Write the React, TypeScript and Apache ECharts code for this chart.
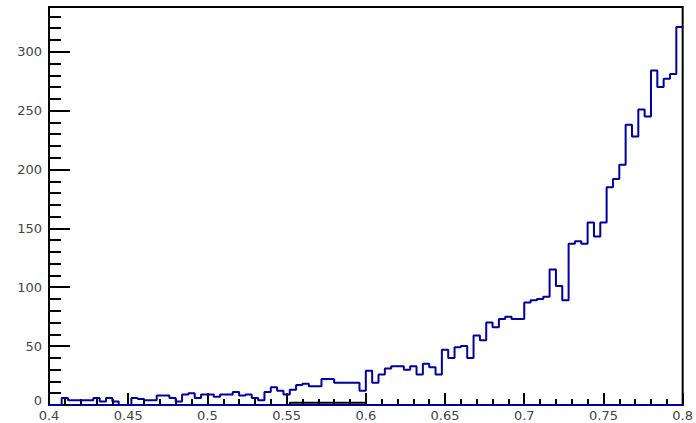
import { useEffect, useRef } from "react";
import * as echarts from "echarts";

// Histogram: 100 bins from 0.4 to 0.8
const xMin = 0.4;
const xMax = 0.8;
const binWidth = 0.004;
const yMax = 338;

const counts = [
  0, 0, 6, 4, 4, 4, 4, 6, 3, 6,
  3, 0, 0, 6, 5, 4, 4, 8, 8, 6,
  3, 9, 10, 6, 9, 9, 7, 9, 9, 11,
  8, 9, 6, 4, 11, 15, 12, 9, 13, 17,
  18, 16, 16, 22, 22, 19, 19, 19, 19, 12,
  29, 19, 26, 31, 33, 33, 30, 33, 26, 35,
  32, 26, 47, 40, 49, 50, 40, 59, 55, 70,
  66, 73, 75, 73, 73, 87, 89, 90, 92, 115,
  101, 89, 137, 139, 137, 155, 143, 155, 185, 192,
  204, 238, 228, 251, 245, 284, 270, 277, 281, 321,
];

// Second (black) histogram: only a few low bins are filled
const blackFirstBin = 38;
const blackCounts = [2, 2, 2, 2, 2, 2, 2, 2, 2, 2, 2, 2];

const xTickInterval = 0.05;
const yTickInterval = 50;
const yMinorInterval = 10;

export default function App() {
  const ref = useRef<HTMLDivElement>(null);

  useEffect(() => {
    if (!ref.current) return;
    const chart = echarts.init(ref.current, null, { renderer: "svg" });

    const edge = (i: number) => +(xMin + i * binWidth).toFixed(4);
    const histData: number[][] = counts.map((c, i) => [edge(i), c]);
    histData.push([xMax, counts[counts.length - 1]]);

    const blackData: number[][] = [[edge(blackFirstBin), 0]];
    blackCounts.forEach((c, k) => blackData.push([edge(blackFirstBin + k), c]));
    blackData.push([edge(blackFirstBin + blackCounts.length), blackCounts[blackCounts.length - 1]]);
    blackData.push([edge(blackFirstBin + blackCounts.length), 0]);

    const labelStyle = {
      color: "#444",
      fontFamily: "DejaVu Sans",
      fontSize: 13,
    };

    chart.setOption({
      animation: false,
      backgroundColor: "#fff",
      grid: {
        left: 49,
        right: 13,
        top: 7,
        bottom: 18,
        show: true,
        borderColor: "#000",
        borderWidth: 2,
        backgroundColor: "transparent",
      },
      xAxis: {
        type: "value",
        min: xMin,
        max: xMax,
        interval: xTickInterval,
        axisLine: { show: true, onZero: false, lineStyle: { color: "#0000a0", width: 2 } },
        axisTick: { show: true, inside: true, length: 12, lineStyle: { color: "#000", width: 2 } },
        minorTick: { show: true, splitNumber: 5, length: 6, lineStyle: { color: "#000", width: 2 } },
        splitLine: { show: false },
        axisLabel: { ...labelStyle, margin: 4 },
      },
      yAxis: [
        {
          type: "value",
          min: 0,
          max: yMax,
          interval: yTickInterval,
          axisLine: { show: true, lineStyle: { color: "#000", width: 2 } },
          axisTick: { show: true, inside: true, length: 21, lineStyle: { color: "#000", width: 2 } },
          splitLine: { show: false },
          axisLabel: {
            ...labelStyle,
            margin: 7,
            showMaxLabel: false,
            formatter: (v: number) => (v === 0 ? "{z|0}" : String(v)),
            rich: {
              z: { ...labelStyle, padding: [0, 0, 9, 0] },
            },
          },
        },
        {
          type: "value",
          min: 0,
          max: yMax,
          interval: yMinorInterval,
          position: "left",
          axisLine: { show: false },
          axisTick: { show: true, inside: true, length: 12, lineStyle: { color: "#000", width: 2 } },
          splitLine: { show: false },
          axisLabel: { show: false },
        },
      ],
      series: [
        {
          type: "line",
          step: "end",
          data: histData,
          yAxisIndex: 0,
          symbol: "none",
          lineStyle: { color: "#0000a0", width: 2 },
          z: 5,
        },
        {
          type: "line",
          data: blackData,
          yAxisIndex: 0,
          symbol: "none",
          step: "end",
          lineStyle: { color: "#000", width: 2 },
          z: 4,
        },
      ],
    });

    return () => chart.dispose();
  }, []);

  return (
    <div
      ref={ref}
      style={{ position: "fixed", left: 0, top: 0, width: 696, height: 423, background: "#fff" }}
    />
  );
}
